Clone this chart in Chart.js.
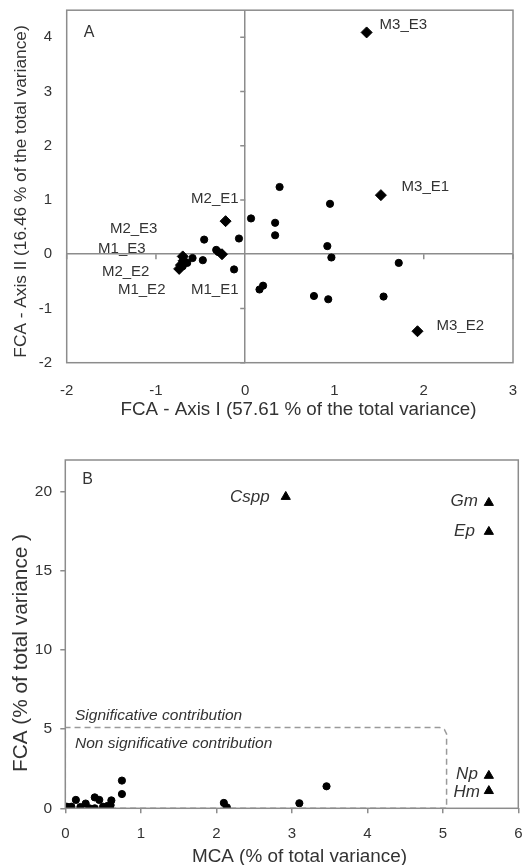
<!DOCTYPE html>
<html><head><meta charset="utf-8">
<script src="https://cdn.jsdelivr.net/npm/chart.js@4"></script>
<style>
html,body{margin:0;padding:0;background:#fff;overflow:hidden;width:524px;height:865px;position:relative;}
#ca{position:absolute;left:0;top:0;}
#cb{position:absolute;left:0;top:430px;}
</style></head><body>
<canvas id="ca" width="524" height="430"></canvas>
<canvas id="cb" width="524" height="445"></canvas>
<script>
// ---------- Panel A data ----------
const sampleNames = ['M1_E1','M1_E2','M1_E3','M2_E1','M2_E2','M2_E3','M3_E1','M3_E2','M3_E3'];
const sampleX = [-0.26, -0.74, -0.69, -0.22, -0.72, -0.70, 1.52, 1.93, 1.36];
const sampleY = [0.00, -0.27, -0.12, 0.61, -0.20, -0.04, 1.09, -1.42, 4.09];
const variableX = [0.385, 0.95, 0.065, 0.335, 0.335, -0.07, -0.46, 0.92, 0.965, 1.72, -0.325, -0.475, -0.125, 0.20, 0.16, 0.77, 0.93, 1.55, -0.59, -0.65, -0.70, -0.30];
const variableY = [1.24, 0.93, 0.66, 0.58, 0.35, 0.29, 0.27, 0.15, -0.06, -0.16, 0.08, -0.11, -0.28, -0.58, -0.65, -0.77, -0.83, -0.78, -0.07, -0.16, -0.22, 0.04];
const axisAXTitle = 'FCA - Axis I (57.61 % of the total variance)';
const axisAYTitle = 'FCA - Axis II (16.46 % of the total variance)';

// ---------- Panel B data ----------
const speciesNames = ['Cspp','Gm','Ep','Np','Hm'];
const speciesX = [2.92, 5.61, 5.61, 5.61, 5.61];
const speciesY = [19.68, 19.30, 17.47, 2.06, 1.10];
const minorX = [0.75, 0.75, 3.46, 3.10, 2.10, 2.14, 0.14, 0.39, 0.45, 0.61, 0.27, 0.02, 0.08, 0.32, 0.50, 0.56, 0.20, 0.39, 0.03, 0.60];
const minorY = [1.75, 0.90, 1.39, 0.32, 0.34, 0.06, 0.53, 0.69, 0.53, 0.50, 0.30, 0.10, 0.10, 0.00, 0.10, 0.15, 0.08, 0.00, 0.05, 0.20];
const boundaryX = [0, 0, 4.96, 5.02, 5.05, 5.05, 0];
const boundaryY = [0, 5.1, 5.1, 4.98, 4.70, 0, 0];
const boundaryLevel = 5.1;
const axisBXTitle = 'MCA (% of total variance)';
const axisBYTitle = 'FCA (% of total variance )';

// ---------- styles (label placement) ----------
const sampleLabelDX = [16.5, -13.7, -38, 13, -31.5, -25.3, 20.7, 19, 13];
const sampleLabelDY = [36, 21.3, -11.5, -22, 7, -28, -8, -5, -8];
const sampleLabelAlign = ['right','right','right','right','right','right','left','left','left'];
const speciesLabelDX = [-16, -11, -14, -11, -9];
const speciesLabelDY = [1, -1, 0, -1.5, 1];

const FAM = "'Liberation Sans', Arial, sans-serif";
Chart.defaults.font.family = FAM;
Chart.defaults.color = '#333';
const GRAY = '#8c8c8c';
const toPts = (xs, ys) => xs.map((v, i) => ({x: v, y: ys[i]}));
const noEdgePad = s => { s.paddingLeft = 0; s.paddingRight = 0; s.paddingTop = 0; s.paddingBottom = 0; };

function framePlugin(id, letter, dxL, dyL) {
  return {
    id,
    afterDraw(chart) {
      const {ctx, chartArea: a} = chart;
      ctx.save();
      ctx.strokeStyle = GRAY; ctx.lineWidth = 1.5;
      ctx.strokeRect(a.left, a.top, a.width, a.height);
      ctx.fillStyle = '#333';
      ctx.font = '16px ' + FAM;
      ctx.textAlign = 'left'; ctx.textBaseline = 'middle';
      ctx.fillText(letter, a.left + dxL, a.top + dyL);
      ctx.restore();
    }
  };
}

// axis titles placed as in the original figure
function titlePlugin(id, xt, xFont, xPos, yt, yFont, yPos) {
  return {
    id,
    afterDraw(chart) {
      const {ctx} = chart;
      ctx.save();
      ctx.fillStyle = '#333';
      ctx.textAlign = 'center'; ctx.textBaseline = 'middle';
      ctx.font = xFont + 'px ' + FAM;
      ctx.fillText(xt, xPos[0], xPos[1]);
      ctx.translate(yPos[0], yPos[1]);
      ctx.rotate(-Math.PI / 2);
      ctx.font = yFont + 'px ' + FAM;
      ctx.fillText(yt, 0, 0);
      ctx.restore();
    }
  };
}

const crossTicksA = {
  id: 'crossTicksA',
  beforeDatasetsDraw(chart) {
    const {ctx, scales: {x, y}} = chart;
    const x0 = x.getPixelForValue(0), y0 = y.getPixelForValue(0);
    ctx.save();
    ctx.strokeStyle = GRAY; ctx.lineWidth = 1.5;
    ctx.beginPath();
    y.ticks.forEach(t => { if (t.value !== 0) { const p = y.getPixelForValue(t.value); ctx.moveTo(x0 - 5, p); ctx.lineTo(x0, p); } });
    x.ticks.forEach(t => { if (t.value !== 0) { const p = x.getPixelForValue(t.value); ctx.moveTo(p, y0); ctx.lineTo(p, y0 + 5); } });
    ctx.stroke();
    ctx.restore();
  }
};

function labelPlugin(id, dsIndex, names, dxs, dys, aligns, font) {
  return {
    id,
    afterDatasetsDraw(chart) {
      const {ctx} = chart;
      const meta = chart.getDatasetMeta(dsIndex);
      ctx.save();
      ctx.fillStyle = '#333';
      ctx.font = font;
      ctx.textBaseline = 'middle';
      meta.data.forEach((el, i) => {
        ctx.textAlign = aligns ? aligns[i] : 'right';
        ctx.fillText(names[i], el.x + dxs[i], el.y + dys[i]);
      });
      ctx.restore();
    }
  };
}

const contribPlugin = {
  id: 'contrib',
  afterDatasetsDraw(chart) {
    const {ctx, scales: {x, y}} = chart;
    const px = x.getPixelForValue(0) + 9.7;
    const py = y.getPixelForValue(boundaryLevel);
    ctx.save();
    ctx.fillStyle = '#333';
    ctx.font = 'italic 15.5px ' + FAM;
    ctx.textAlign = 'left'; ctx.textBaseline = 'middle';
    ctx.fillText('Significative contribution', px, py - 12);
    ctx.fillText('Non significative contribution', px, py + 16);
    ctx.restore();
  }
};

// ---------- Chart A ----------
new Chart(document.getElementById('ca'), {
  type: 'scatter',
  data: {
    datasets: [
      {data: toPts(sampleX, sampleY), pointStyle: 'rectRot', pointRadius: 5.5, backgroundColor: '#000', borderColor: '#000', borderWidth: 1},
      {data: toPts(variableX, variableY), pointStyle: 'circle', pointRadius: 3.6, backgroundColor: '#000', borderColor: '#000', borderWidth: 1}
    ]
  },
  options: {
    responsive: false, animation: false, events: [],
    layout: {autoPadding: false, padding: {left: 0, right: 11, top: 10.2, bottom: 0}},
    plugins: {legend: {display: false}, tooltip: {enabled: false}},
    scales: {
      x: {
        type: 'linear', min: -2, max: 3,
        ticks: {stepSize: 1, includeBounds: false, padding: 19.3, font: {size: 15}, color: '#333'},
        grid: {color: c => (c.tick && c.tick.value === 0) ? GRAY : 'rgba(0,0,0,0)', lineWidth: 1.5, drawTicks: false},
        border: {display: false},
        title: {display: false},
        afterFit: s => { s.height = 67.3; noEdgePad(s); }
      },
      y: {
        type: 'linear', min: -2, max: 4.5,
        ticks: {stepSize: 1, includeBounds: false, padding: 14.7, font: {size: 15}, color: '#333'},
        grid: {color: c => (c.tick && c.tick.value === 0) ? GRAY : 'rgba(0,0,0,0)', lineWidth: 1.5, drawTicks: false},
        border: {display: false},
        title: {display: false},
        afterFit: s => { s.width = 66.7; noEdgePad(s); }
      }
    }
  },
  plugins: [crossTicksA, framePlugin('frameA', 'A', 17, 22),
            titlePlugin('titA', axisAXTitle, 18.8, [298.5, 410], axisAYTitle, 17.3, [21, 191.5]),
            labelPlugin('labA', 0, sampleNames, sampleLabelDX, sampleLabelDY, sampleLabelAlign, '15px ' + FAM)]
});

// ---------- Chart B ----------
new Chart(document.getElementById('cb'), {
  type: 'scatter',
  data: {
    datasets: [
      {data: toPts(speciesX, speciesY), pointStyle: 'triangle', pointRadius: 5.3, backgroundColor: '#000', borderColor: '#000', borderWidth: 1},
      {data: toPts(minorX, minorY), pointStyle: 'circle', pointRadius: 3.6, backgroundColor: '#000', borderColor: '#000', borderWidth: 1},
      {data: toPts(boundaryX, boundaryY), showLine: true, pointRadius: 0, borderColor: '#9a9a9a', borderWidth: 1.5, borderDash: [6, 4], fill: false, tension: 0}
    ]
  },
  options: {
    responsive: false, animation: false, events: [],
    layout: {autoPadding: false, padding: {left: 0, right: 5.7, top: 30, bottom: 0}},
    plugins: {legend: {display: false}, tooltip: {enabled: false}},
    scales: {
      x: {
        type: 'linear', min: 0, max: 6,
        ticks: {stepSize: 1, includeBounds: false, padding: 11.7, font: {size: 15}, color: '#333'},
        grid: {drawOnChartArea: false, drawTicks: true, tickLength: 5, color: GRAY, lineWidth: 1.5},
        border: {display: false},
        title: {display: false},
        afterFit: s => { s.height = 66.7; noEdgePad(s); }
      },
      y: {
        type: 'linear', min: 0, max: 22,
        ticks: {stepSize: 5, includeBounds: false, padding: 8.3, font: {size: 15.5}, color: '#333'},
        grid: {drawOnChartArea: false, drawTicks: true, tickLength: 5, color: GRAY, lineWidth: 1.5},
        border: {display: false},
        title: {display: false},
        afterFit: s => { s.width = 65.3; noEdgePad(s); }
      }
    }
  },
  plugins: [framePlugin('frameB', 'B', 17, 20), contribPlugin,
            titlePlugin('titB', axisBXTitle, 18.9, [299.5, 427], axisBYTitle, 20.8, [21, 223]),
            labelPlugin('labB', 0, speciesNames, speciesLabelDX, speciesLabelDY, null, 'italic 17px ' + FAM)]
});
</script>
</body></html>
